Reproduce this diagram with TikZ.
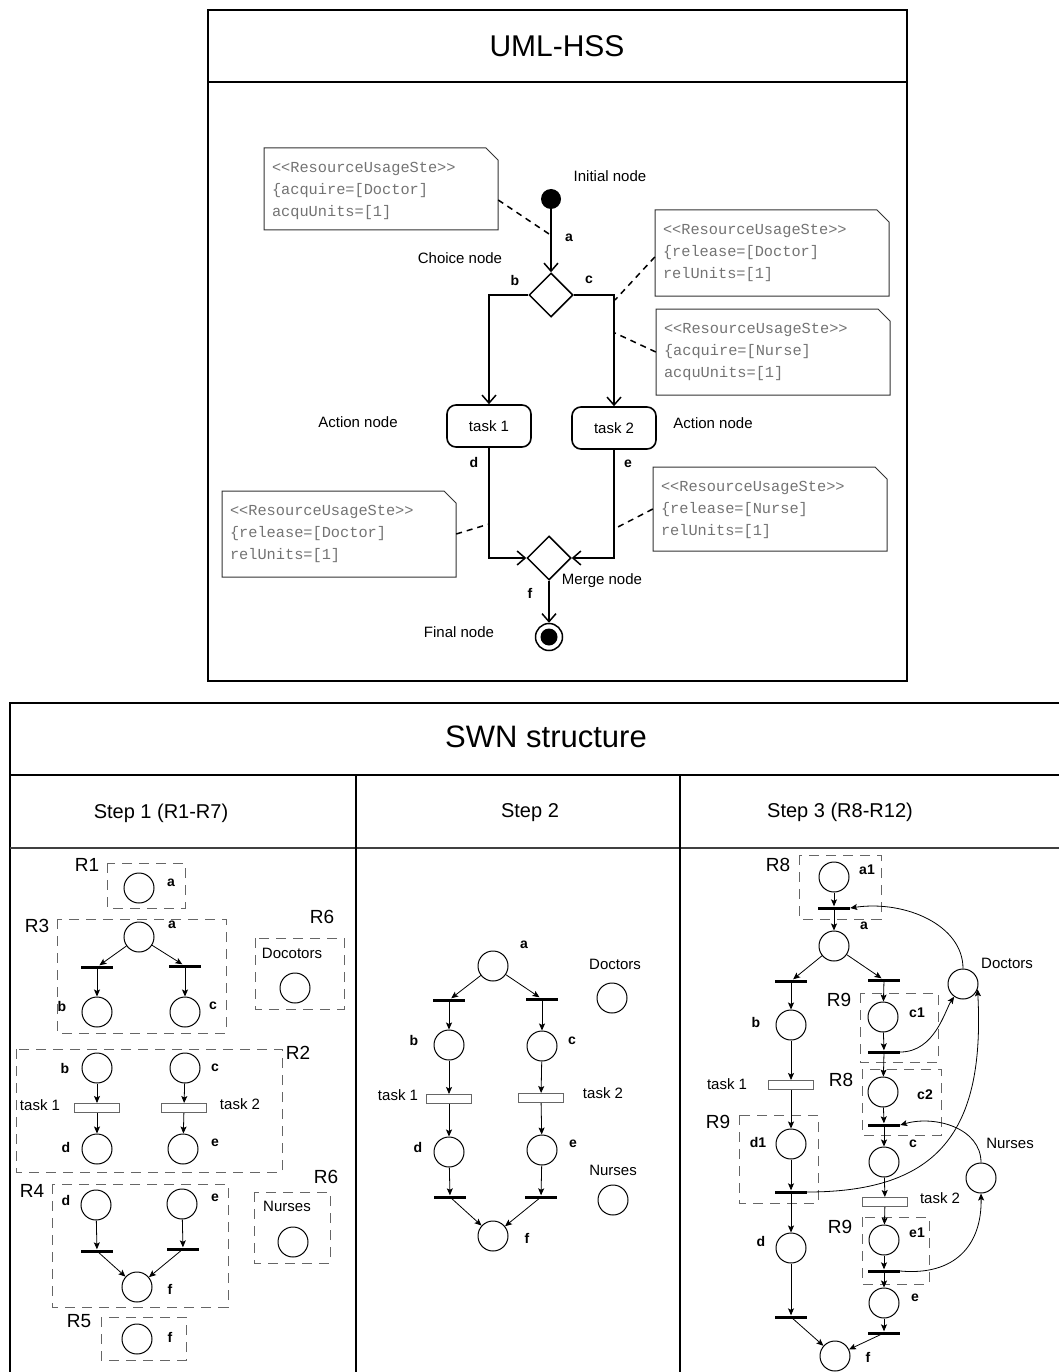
\documentclass[tikz,border=0pt]{standalone}
\usepackage{fontspec}
\setmainfont{Liberation Sans}
\newfontfamily\notemono{Liberation Mono}
\usetikzlibrary{arrows.meta,shapes.geometric,fit}

% UML note with a cut corner; #1 name, (#2,#3)-(#4,#5) box, #6-#8 text lines
\newcommand\umlnote[8]{%
  \draw[notefr] (#2,#3) -- (#4-12,#3) -- (#4,#3+12) -- (#4,#5) -- (#2,#5) -- cycle;
  \node[fit={(#2,#3) (#4,#5)}, inner sep=0pt] (#1) {};
  \node[notetxt] at ([xshift=8pt,yshift=-21pt]#1.north west) {#6};
  \node[notetxt] at ([xshift=8pt,yshift=-43pt]#1.north west) {#7};
  \node[notetxt] at ([xshift=8pt,yshift=-65pt]#1.north west) {#8};
}

\begin{document}
\begin{tikzpicture}[x=1pt,y=-1pt,
  txt/.style={font=\fontsize{15}{18}\selectfont, inner sep=0pt},
  ttl/.style={font=\fontsize{30}{34}\selectfont, inner sep=0pt},
  stp/.style={font=\fontsize{20}{24}\selectfont, inner sep=0pt},
  bl/.style={font=\fontsize{14}{16}\selectfont\bfseries, inner sep=0pt},
  rl/.style={font=\fontsize{19}{22}\selectfont, inner sep=0pt},
  place/.style={circle, draw, line width=1pt, minimum size=30pt, inner sep=0pt, fill=white},
  bar/.style={rectangle, fill=black, minimum width=32pt, minimum height=3pt, inner sep=0pt},
  tbox/.style={rectangle, draw=black!60, line width=1pt, minimum width=45pt, minimum height=9pt, inner sep=0pt, fill=white},
  pa/.style={-{Stealth[length=7pt,width=6pt,inset=1.5pt]}, line width=0.8pt},
  region/.style={draw=black!60, line width=1pt, dash pattern=on 10pt off 7pt},
  flow/.style={line width=1.8pt, -{Straight Barb[length=8pt,width=14pt,line width=1.5pt]}},
  hook/.style={line width=1.5pt, dash pattern=on 6pt off 5pt},
  notefr/.style={draw=black!80, line width=1pt},
  notetxt/.style={font=\notemono\fontsize{15.3}{18}\selectfont, text=black!55, anchor=west, inner sep=0pt},
  action/.style={draw, rounded corners=9pt, line width=1.6pt, minimum width=84pt, minimum height=42pt, txt},
  gate/.style={diamond, draw, line width=1.5pt, minimum width=44pt, minimum height=44pt, inner sep=0pt, fill=white}
]
\useasboundingbox (0,0) rectangle (1058,1372);

% ================= UML-HSS =================
\draw[line width=2.5pt] (208,10) rectangle (907,681);
\draw[line width=2pt] (208,82) -- (907,82);
\node[ttl] at (557,46) {UML-HSS};

\node[circle, fill, minimum size=20pt, inner sep=0pt] (init) at (551,199) {};
\node[txt] at (610,176) {Initial node};
\node[gate] (choice) at (551,295) {};
\node[txt] at (460,258) {Choice node};
\node[action] (task1) at (489,426) {task 1};
\node[action] (task2) at (614,428) {task 2};
\node[txt] at (358,422) {Action node};
\node[txt] at (713,423) {Action node};
\node[gate] (merge) at (549,558) {};
\node[txt] at (602,581) {Merge node};
\node[circle, draw, line width=1.5pt, minimum size=27pt, inner sep=0pt] (final) at (549,637) {};
\node[circle, fill, minimum size=17pt, inner sep=0pt] (finalin) at (final) {};
\node[txt] at (459,632) {Final node};

\draw[flow] (init) -- (choice.north);
\draw[flow] (choice.west) -| (task1.north);
\draw[flow] (choice.east) -| (task2.north);
\draw[flow] (task1.south) |- (merge.west);
\draw[flow] (task2.south) |- (merge.east);
\draw[flow] (merge.south) -- (final.north);

\node[bl] at (569,238) {a};
\node[bl] at (515,280) {b};
\node[bl] at (589,280) {c};
\node[bl] at (474,462) {d};
\node[bl] at (628,464) {e};
\node[bl] at (530,593) {f};

\umlnote{n1}{264}{148}{498}{230}{<{}<ResourceUsageSte>{}>}{\{acquire=[Doctor]}{acquUnits=[1]}
\umlnote{n2}{655}{210}{889}{296}{<{}<ResourceUsageSte>{}>}{\{release=[Doctor]}{relUnits=[1]}
\umlnote{n3}{656}{309}{890}{395}{<{}<ResourceUsageSte>{}>}{\{acquire=[Nurse]}{acquUnits=[1]}
\umlnote{n4}{222}{491}{456}{577}{<{}<ResourceUsageSte>{}>}{\{release=[Doctor]}{relUnits=[1]}
\umlnote{n5}{653}{467}{887}{551}{<{}<ResourceUsageSte>{}>}{\{release=[Nurse]}{relUnits=[1]}

\coordinate (h1) at (552,236);
\coordinate (h2) at (615,300);
\coordinate (h3) at (615,333);
\coordinate (h4) at (489,524);
\coordinate (h5) at (614,529);
\draw[hook] ([yshift=-11pt]n1.east) -- (h1);
\draw[hook] ([yshift=-4pt]n2.west) -- (h2);
\draw[hook] (n3.west) -- (h3);
\draw[hook] (n4.east) -- (h4);
\draw[hook] (n5.west) -- (h5);

% ================= SWN structure =================
\draw[line width=2.5pt] (1064,703) -- (10,703) -- (10,1380);
\draw[line width=2pt] (10,775) -- (1064,775);
\draw[line width=2pt, draw=black!75] (10,848) -- (1064,848);
\draw[line width=1.2pt] (356,775) -- (356,1380);
\draw[line width=1.2pt] (680,775) -- (680,1380);
\node[font=\fontsize{31}{34}\selectfont, inner sep=0pt] at (546,737) {SWN structure};
\node[stp] at (161,813) {Step 1 (R1-R7)};
\node[stp] at (530,813) {Step 2};
\node[stp] at (840,812) {Step 3 (R8-R12)};

% ---- Step 1 ----
\draw[region] (107,863) rectangle (185,908);
\node[rl] at (87,865) {R1};
\node[place] (p1a) at (139,888) {};
\node[bl] at (171,883) {a};

\draw[region] (57,919) rectangle (226,1033);
\node[rl] at (37,926) {R3};
\node[place] (p3a) at (139,937) {};
\node[bl] at (172,925) {a};
\node[bar] (t3l) at (97,967) {};
\node[bar] (t3r) at (185,966) {};
\node[place] (p3b) at (97,1012) {};
\node[place] (p3c) at (185,1012) {};
\node[bl] at (62,1006) {b};
\node[bl] at (213,1006) {c};
\draw[pa] (p3a) -- (t3l);
\draw[pa] (p3a) -- (t3r);
\draw[pa] (t3l) -- (p3b);
\draw[pa] (t3r) -- (p3c);

\draw[region] (255,938) rectangle (344,1009);
\node[rl] at (322,917) {R6};
\node[txt] at (292,953) {Docotors};
\node[place] (p6d) at (295,988) {};

\draw[region] (16,1049) rectangle (282,1172);
\node[rl] at (298,1053) {R2};
\node[place] (p2b) at (97,1068) {};
\node[place] (p2c) at (185,1068) {};
\node[bl] at (65,1068) {b};
\node[bl] at (215,1068) {c};
\node[tbox] (k2a) at (97,1108) {};
\node[tbox] (k2b) at (184,1108) {};
\node[txt] at (40,1105) {task 1};
\node[txt] at (240,1104) {task 2};
\node[place] (p2d) at (97,1149) {};
\node[place] (p2e) at (183,1149) {};
\node[bl] at (66,1147) {d};
\node[bl] at (215,1143) {e};
\draw[pa] (p2b) -- (k2a);
\draw[pa] (k2a) -- (p2d);
\draw[pa] (p2c) -- (k2b);
\draw[pa] (k2b) -- (p2e);

\draw[region] (52,1184) rectangle (228,1307);
\node[rl] at (32,1191) {R4};
\node[place] (p4d) at (96,1205) {};
\node[place] (p4e) at (182,1204) {};
\node[bl] at (66,1200) {d};
\node[bl] at (215,1198) {e};
\node[bar] (t4l) at (97,1251) {};
\node[bar] (t4r) at (183,1249) {};
\node[place] (p4f) at (137,1287) {};
\node[bl] at (170,1289) {f};
\draw[pa] (p4d) -- (t4l);
\draw[pa] (p4e) -- (t4r);
\draw[pa] (t4l) -- (p4f);
\draw[pa] (t4r) -- (p4f);

\draw[region] (254,1192) rectangle (330,1263);
\node[rl] at (326,1177) {R6};
\node[txt] at (287,1206) {Nurses};
\node[place] (p6n) at (293,1242) {};

\draw[region] (101,1317) rectangle (186,1360);
\node[rl] at (79,1321) {R5};
\node[place] (p5f) at (137,1339) {};
\node[bl] at (170,1337) {f};

% ---- Step 2 ----
\node[place] (q2a) at (493,966) {};
\node[bl] at (524,945) {a};
\node[bar] (u2l) at (449,1000) {};
\node[bar] (u2r) at (542,999) {};
\node[place] (q2b) at (449,1045) {};
\node[place] (q2c) at (542,1046) {};
\node[bl] at (414,1040) {b};
\node[bl] at (572,1041) {c};
\node[txt] at (615,964) {Doctors};
\node[place] (q2doc) at (612,998) {};
\node[tbox] (v2a) at (449,1099) {};
\node[tbox] (v2b) at (541,1098) {};
\node[txt] at (398,1095) {task 1};
\node[txt] at (603,1093) {task 2};
\node[place] (q2d) at (449,1152) {};
\node[place] (q2e) at (542,1150) {};
\node[bl] at (418,1147) {d};
\node[bl] at (573,1144) {e};
\node[txt] at (613,1170) {Nurses};
\node[place] (q2nur) at (613,1200) {};
\node[bar] (w2l) at (450,1197) {};
\node[bar] (w2r) at (541,1197) {};
\node[place] (q2f) at (493,1236) {};
\node[bl] at (527,1238) {f};
\draw[pa] (q2a) -- (u2l);
\draw[pa] (q2a) -- (u2r);
\draw[pa] (u2l) -- (q2b);
\draw[pa] (u2r) -- (q2c);
\draw[pa] (q2b) -- (v2a);
\draw[pa] (q2c) -- (v2b);
\draw[pa] (v2a) -- (q2d);
\draw[pa] (v2b) -- (q2e);
\draw[pa] (q2d) -- (w2l);
\draw[pa] (q2e) -- (w2r);
\draw[pa] (w2l) -- (q2f);
\draw[pa] (w2r) -- (q2f);

% ---- Step 3 ----
\draw[region] (799,855) rectangle (881,919);
\node[rl] at (778,865) {R8};
\draw[region] (860,993) rectangle (938,1062);
\node[rl] at (839,1000) {R9};
\draw[region] (862,1069) rectangle (941,1135);
\node[rl] at (841,1080) {R8};
\draw[region] (739,1115) rectangle (818,1203);
\node[rl] at (718,1122) {R9};
\draw[region] (862,1217) rectangle (929,1284);
\node[rl] at (840,1227) {R9};

\node[place] (s3a1) at (834,877) {};
\node[bl] at (867,870) {a1};
\node[bar] (s3t0) at (834,908) {};
\node[place] (s3a) at (834,946) {};
\node[bl] at (864,926) {a};
\node[bar] (s3tl) at (791,981) {};
\node[bar] (s3tr) at (884,980) {};
\node[place] (s3b) at (791,1025) {};
\node[bl] at (756,1022) {b};
\node[place] (s3c1) at (883,1017) {};
\node[bl] at (917,1013) {c1};
\node[bar] (s3c1t) at (884,1052) {};
\node[place] (s3doc) at (963,984) {};
\node[txt] at (1007,963) {Doctors};
\node[place] (s3c2) at (883,1092) {};
\node[bl] at (925,1095) {c2};
\node[bar] (s3c2t) at (884,1125) {};
\node[place] (s3nur) at (981,1178) {};
\node[txt] at (1010,1143) {Nurses};
\node[place] (s3c) at (884,1162) {};
\node[bl] at (913,1144) {c};
\node[tbox] (s3k1) at (791,1085) {};
\node[txt] at (727,1084) {task 1};
\node[place] (s3d1) at (791,1144) {};
\node[bl] at (758,1142) {d1};
\node[bar] (s3d1t) at (791,1192) {};
\node[tbox] (s3k2) at (885,1202) {};
\node[txt] at (940,1198) {task 2};
\node[place] (s3e1) at (884,1240) {};
\node[bl] at (917,1233) {e1};
\node[bar] (s3e1t) at (884,1271) {};
\node[place] (s3e) at (884,1303) {};
\node[bl] at (915,1298) {e};
\node[bar] (s3et) at (884,1333) {};
\node[place] (s3d) at (791,1248) {};
\node[bl] at (761,1241) {d};
\node[bar] (s3dt) at (791,1317) {};
\node[place] (s3f) at (835,1356) {};
\node[bl] at (868,1357) {f};

\draw[pa] (s3a1) -- (s3t0);
\draw[pa] (s3t0) -- (s3a);
\draw[pa] (s3a) -- (s3tl);
\draw[pa] (s3a) -- (s3tr);
\draw[pa] (s3tl) -- (s3b);
\draw[pa] (s3tr) -- (s3c1);
\draw[pa] (s3b) -- (s3k1);
\draw[pa] (s3k1) -- (s3d1);
\draw[pa] (s3d1) -- (s3d1t);
\draw[pa] (s3d1t) -- (s3d);
\draw[pa] (s3d) -- (s3dt);
\draw[pa] (s3dt) -- (s3f);
\draw[pa] (s3c1) -- (s3c1t);
\draw[pa] (s3c1t) -- (s3c2);
\draw[pa] (s3c2) -- (s3c2t);
\draw[pa] (s3c2t) -- (s3c);
\draw[pa] (s3c) -- (s3k2);
\draw[pa] (s3k2) -- (s3e1);
\draw[pa] (s3e1) -- (s3e1t);
\draw[pa] (s3e1t) -- (s3e);
\draw[pa] (s3e) -- (s3et);
\draw[pa] (s3et) -- (s3f);

% resource loops
\draw[pa] (s3c1t.east) .. controls (935,1052) and (945,1010) .. (s3doc.235);
\draw[pa] (s3doc.north) .. controls (963,925) and (905,900) .. (s3t0.east);
\draw[pa] (s3d1t.east) .. controls (940,1192) and (985,1130) .. (s3doc.-20);
\draw[pa] (s3nur.north) .. controls (981,1128) and (935,1115) .. (s3c2t.east);
\draw[pa] (s3e1t.east) .. controls (955,1276) and (982,1245) .. (s3nur.south);
\end{tikzpicture}
\end{document}
